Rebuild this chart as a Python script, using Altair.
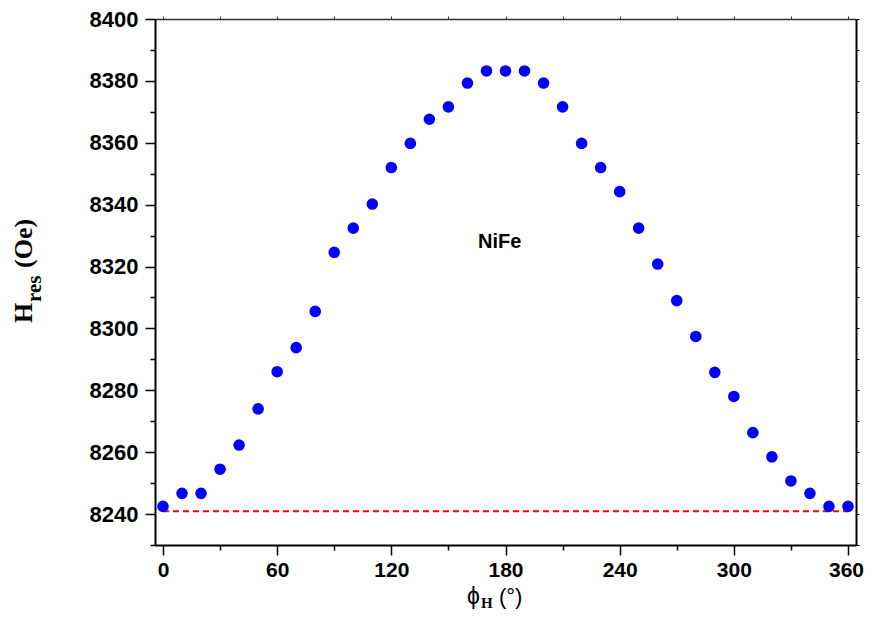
import altair as alt
import pandas as pd

# ---- data ----
phi_h = list(range(0, 361, 10))
h_res = [8242.5, 8246.7, 8246.7, 8254.5, 8262.3, 8274.0, 8286.0, 8293.8, 8305.5,
         8324.6, 8332.4, 8340.2, 8352.0, 8359.8, 8367.6, 8371.6, 8379.3, 8383.2,
         8383.2, 8383.2, 8379.3, 8371.6, 8359.8, 8352.0, 8344.2, 8332.4, 8320.8,
         8309.0, 8297.4, 8285.8, 8278.0, 8266.3, 8258.5, 8250.7, 8246.7, 8242.5, 8242.5]
ref_line_x = [0, 360]
ref_line_y = 8240.9
annotation = "NiFe"
annotation_pos = [177, 8326]

x_major = [0, 60, 120, 180, 240, 300, 360]
x_minor = [30, 90, 150, 210, 270, 330]
x_frame = list(range(0, 361, 30))
y_major = list(range(8240, 8401, 20))
y_minor = list(range(8230, 8391, 20))
y_frame = list(range(8230, 8401, 10))

df = pd.DataFrame({"phi": phi_h, "hres": h_res})
line_df = pd.DataFrame({"x0": [ref_line_x[0]], "x1": [ref_line_x[1]], "y": [ref_line_y]})
ann_df = pd.DataFrame({"x": [annotation_pos[0]], "y": [annotation_pos[1]], "t": [annotation]})

xs = alt.Scale(domain=[-4.2, 364.2], nice=False, zero=False)
ys = alt.Scale(domain=[8230, 8400], nice=False, zero=False)

LF = "Liberation Sans"
common = dict(grid=False, title=None, labelFont=LF, labelFontWeight="bold",
              labelColor="black", tickColor="black", domainColor="black", format="d")

line = alt.Chart(line_df).mark_rule(color="#ff0000", strokeDash=[6, 4], strokeWidth=1.8).encode(
    x=alt.X("x0:Q", scale=xs, axis=None), x2="x1:Q",
    y=alt.Y("y:Q", scale=ys, axis=None))

points = alt.Chart(df).mark_circle(size=135, color="#0000ff", opacity=1).encode(
    x=alt.X("phi:Q", scale=xs, axis=alt.Axis(
        orient="bottom", values=x_major, tickSize=10, tickWidth=1.5, domainWidth=2,
        labelPadding=4, labelFlush=False, labelFontSize=21,
        labelOffset={"condition": {"test": "datum.value == 360", "value": -2}, "value": 0},
        **common)),
    y=alt.Y("hres:Q", scale=ys, axis=alt.Axis(
        orient="left", values=y_major, tickSize=10, tickWidth=1.5, domainWidth=2,
        labelPadding=7, labelFlush=False, labelFontSize=22, **common)))

minor = alt.Chart(df).mark_point(opacity=0).encode(
    x=alt.X("phi:Q", scale=xs, axis=alt.Axis(orient="bottom", values=x_minor, tickSize=5,
            tickWidth=1.5, labels=False, domain=False, grid=False, title=None, tickColor="black")),
    y=alt.Y("hres:Q", scale=ys, axis=alt.Axis(orient="left", values=y_minor, tickSize=5,
            tickWidth=1.5, labels=False, domain=False, grid=False, title=None, tickColor="black")))

frame = alt.Chart(df).mark_point(opacity=0).encode(
    x=alt.X("phi:Q", scale=xs, axis=alt.Axis(orient="top", values=x_frame, tickSize=3,
            tickWidth=1, labels=False, domainWidth=1.5, domainColor="#333333", grid=False,
            title=None, tickColor="#333333")),
    y=alt.Y("hres:Q", scale=ys, axis=alt.Axis(orient="right", values=y_frame, tickSize=3,
            tickWidth=1, labels=False, domainWidth=2, domainColor="black", grid=False,
            title=None, tickColor="black")))

ann = alt.Chart(ann_df).mark_text(font=LF, fontSize=20, fontWeight="bold", color="black",
                                  baseline="alphabetic", align="center").encode(
    x=alt.X("x:Q", scale=xs, axis=None), y=alt.Y("y:Q", scale=ys, axis=None), text="t:N")

# axis titles with subscripts (positions relative to plot origin at (155,19))
one = pd.DataFrame({"k": [0]})
def txt(s, x, y, size, weight="normal", angle=0, font="Liberation Serif"):
    return alt.Chart(one).mark_text(text=s, font=font, fontSize=size, fontWeight=weight,
                                    color="black", align="left", baseline="alphabetic",
                                    angle=angle).encode(x=alt.value(x), y=alt.value(y))

titles = [
    txt("\u03d5", 467 - 155, 604 - 19, 23, font="Liberation Sans"),
    txt("H", 481 - 155, 608 - 19, 15, "bold"),
    txt("(\u00b0)", 499 - 155, 604 - 19, 22, font="Liberation Sans"),
    txt("H", 32 - 155, 323 - 19, 26, "bold", angle=270),
    txt("res", 41 - 155, 302 - 19, 21, "bold", angle=270),
    txt("(Oe)", 32 - 155, 268 - 19, 26, "bold", angle=270),
]

chart = alt.layer(line, points, minor, frame, ann, *titles).resolve_axis(
    x="independent", y="independent"
).properties(
    width=701, height=526,
    autosize=alt.AutoSizeParams(type="none"),
    padding={"left": 147, "top": 11, "right": 8, "bottom": 67},
).configure_view(stroke=None).configure(background="white")

chart.save("out.html", embed_options={"renderer": "svg", "actions": False})
